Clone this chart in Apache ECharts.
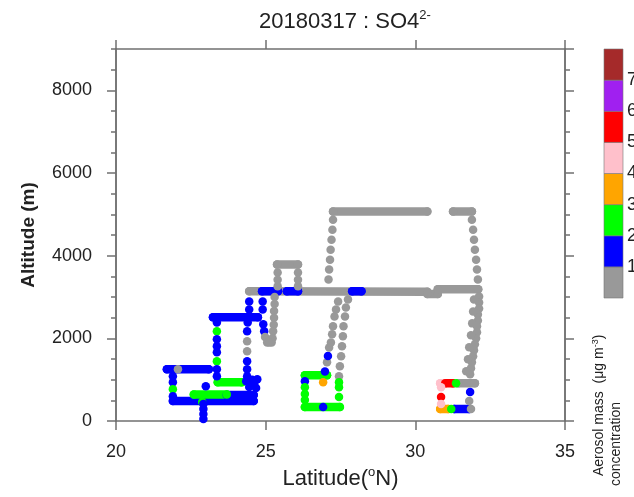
<!DOCTYPE html>
<html><head><meta charset="utf-8">
<script src="https://cdn.jsdelivr.net/npm/echarts@6/dist/echarts.min.js"></script>
<style>html,body{margin:0;padding:0;background:#fff}#c{width:634px;height:497px}</style>
</head><body><div id="c"></div>
<script>
// ---- data ----
const titleText = '20180317 : SO4';
const yTickValues = [0, 2000, 4000, 6000, 8000];
const xTickValues = [20, 25, 30, 35];
const cbLabels = ['1', '2', '3', '4', '5', '6', '7'];
const cbColors = ['#999999', '#0000ff', '#00ff00', '#ffa500', '#ffc0cb', '#ff0000', '#a020f0', '#a52a2a'];

// continuous flight legs: [lat1, alt1, lat2, alt2, concentration]
const runs = [
  [24.45, 3140, 30.40, 3130, 0.5],
  [30.40, 3075, 30.75, 3075, 0.5],
  [30.75, 3190, 32.10, 3190, 0.5],
  [25.38, 3785, 26.08, 3785, 0.5],
  [27.25, 5070, 30.40, 5070, 0.5],
  [31.26, 5070, 31.89, 5070, 0.5],
  [31.43, 916, 31.99, 916, 0.5],
  [24.88, 3140, 25.41, 3140, 1.5],
  [25.71, 3140, 26.08, 3140, 1.5],
  [27.89, 3140, 28.20, 3140, 1.5],
  [23.24, 2510, 24.74, 2510, 1.5],
  [21.70, 1253, 23.10, 1253, 1.5],
  [21.90, 482, 24.60, 482, 1.5],
  [23.70, 630, 24.60, 630, 1.5],
  [22.60, 640, 23.70, 640, 2.5],
  [23.40, 940, 24.20, 940, 2.5],
  [26.31, 1109, 27.05, 1109, 2.5],
  [26.31, 337, 27.48, 337, 2.5],
  [30.83, 916, 30.95, 916, 4.5],
  [31.00, 916, 31.26, 916, 5.5],
  [30.83, 289, 31.10, 289, 3.5],
  [31.30, 289, 31.80, 289, 1.5]
];

// individual samples: [lat, alt, concentration]
const dots = [
  [21.90,1085,1.5],[21.90,940,1.5],[21.90,770,2.5],[21.90,600,1.5],[22.07,1253,0.5],
  [22.88,460,2.5],[22.92,410,1.5],[22.92,290,1.5],[22.92,170,1.5],[22.92,50,1.5],[23.00,840,1.5],
  [23.37,2386,1.5],[23.37,2169,2.5],[23.37,1976,1.5],[23.37,1808,1.5],[23.37,1663,1.5],[23.37,1446,2.5],[23.37,1253,1.5],[23.37,1085,1.5],
  [24.45,2890,1.5],[24.45,2700,1.5],[24.40,2386,1.5],[24.38,2169,1.5],[24.38,1930,0.5],[24.38,1690,0.5],[24.38,1446,1.5],[24.38,1253,1.5],[24.38,1085,1.5],
  [24.35,960,1.5],[24.55,1000,1.5],[24.72,1010,1.5],[24.62,900,1.5],[24.45,820,1.5],[24.68,800,1.5],
  [24.90,2890,1.5],[24.90,2700,1.5],[24.92,2340,1.5],[24.95,2170,1.5],[24.98,2030,0.5],[25.05,1900,0.5],
  [25.30,3000,0.5],[25.30,2830,0.5],[25.28,2660,0.5],[25.28,2500,0.5],[25.27,2330,0.5],[25.25,2170,0.5],[25.23,2000,0.5],[25.20,1900,0.5],[25.12,1900,0.5],
  [25.40,3590,0.5],[25.40,3420,0.5],[25.40,3260,0.5],[26.08,3590,0.5],[26.08,3420,0.5],[26.08,3260,0.5],
  [26.98,1200,1.5],[27.05,1420,0.5],[27.08,1570,1.5],[27.12,1780,0.5],[27.18,1900,0.5],[27.22,2100,0.5],[27.25,2290,0.5],[27.30,2530,0.5],[27.35,2700,0.5],[27.42,2890,0.5],
  [27.10,3422,0.5],[27.12,3663,0.5],[27.15,3904,0.5],[27.17,4145,0.5],[27.20,4386,0.5],[27.23,4627,0.5],[27.25,4868,0.5],
  [27.75,2940,0.5],[27.68,2747,0.5],[27.65,2531,0.5],[27.60,2290,0.5],[27.58,2049,0.5],[27.55,1808,0.5],[27.52,1567,0.5],[27.48,1325,0.5],[27.45,1085,0.5],
  [26.31,964,1.5],[26.92,940,3.5],[26.31,819,2.5],[26.31,651,2.5],[26.31,506,2.5],[26.92,337,1.5],[27.45,940,2.5],[27.45,819,2.5],[27.45,578,2.5],
  [31.89,4868,0.5],[31.93,4627,0.5],[31.96,4386,0.5],[31.99,4145,0.5],[32.03,3904,0.5],[32.06,3663,0.5],[32.09,3422,0.5],
  [32.13,3013,0.5],[32.13,2868,0.5],[32.13,2723,0.5],[32.09,2579,0.5],[32.09,2434,0.5],[32.06,2290,0.5],[32.06,2145,0.5],[32.03,2000,0.5],[31.99,1856,0.5],[31.96,1711,0.5],[31.93,1567,0.5],[31.89,1422,0.5],[31.86,1277,0.5],[31.83,1133,0.5],
  [31.96,2940,0.5],[31.93,2651,0.5],[31.90,2362,0.5],[31.86,2073,0.5],[31.80,1783,0.5],[31.76,1494,0.5],[31.70,1205,0.5],
  [30.86,819,4.5],[30.86,578,5.5],[30.86,410,4.5],[31.36,916,2.5],[31.20,289,2.5],[31.86,289,0.5],[31.83,699,1.5],[31.80,482,0.5]
];

// ---- chart ----
const FONT = 'Liberation Sans, Arial, Helvetica, sans-serif';
const MARK = 8.5;
function colorFor(c) { return cbColors[Math.max(0, Math.min(cbColors.length - 1, Math.floor(c)))]; }

const chart = echarts.init(document.getElementById('c'), null, { renderer: 'canvas' });
const axisLineStyle = { color: '#707070', width: 1.5 };

function xAxisDef(pos, withLabel) {
  return {
    type: 'value', position: pos, min: 20, max: 35, interval: 5,
    axisLine: { show: true, onZero: false, lineStyle: axisLineStyle },
    axisTick: { show: true, inside: false, length: 9, lineStyle: axisLineStyle },
    axisLabel: withLabel ? { show: true, fontSize: 18, color: '#222', fontFamily: FONT, margin: 22,
      formatter: v => xTickValues.includes(v) ? String(v) : '' } : { show: false },
    splitLine: { show: false },
    name: withLabel ? 'Latitude({sup|o}N)' : '', nameLocation: 'middle', nameGap: 45,
    nameTextStyle: { fontSize: 22, color: '#222', fontFamily: FONT, lineHeight: 26,
      rich: { sup: { fontSize: 13, verticalAlign: 'top', lineHeight: 14, fontFamily: FONT, color: '#222' } } }
  };
}
function yAxisDef(pos, interval, len, withLabel) {
  return {
    type: 'value', position: pos, min: 0, max: 9000, interval: interval,
    axisLine: { show: true, onZero: false, lineStyle: axisLineStyle },
    axisTick: { show: true, inside: false, length: len, lineStyle: axisLineStyle },
    axisLabel: withLabel ? { show: true, fontSize: 18, color: '#222', fontFamily: FONT, margin: 24, showMaxLabel: false,
      formatter: v => yTickValues.includes(v) ? String(v) : '' } : { show: false },
    splitLine: { show: false },
    name: withLabel ? 'Altitude (m)' : '', nameLocation: 'middle', nameGap: 78,
    nameTextStyle: { fontSize: 19, fontWeight: 'bold', color: '#222', fontFamily: FONT }
  };
}

const series = runs.map(r => ({
  type: 'line', xAxisIndex: 0, yAxisIndex: 0,
  data: [[r[0], r[1]], [r[2], r[3]]],
  symbol: 'none', silent: true, animation: false,
  z: r[4] >= 1 ? 3 : 2,
  lineStyle: { width: MARK, color: colorFor(r[4]), cap: 'round' }
}));
// rounded ends of the legs (the legs' own end samples)
const runEnds = [];
runs.forEach(r => { runEnds.push([r[0], r[1], r[4]]); runEnds.push([r[2], r[3], r[4]]); });
series.push({
  type: 'scatter', xAxisIndex: 0, yAxisIndex: 0, data: runEnds, symbolSize: MARK, z: 3,
  animation: false, silent: true,
  itemStyle: { color: p => colorFor(p.data[2]), opacity: 1 }
});
series.push({
  type: 'scatter', xAxisIndex: 0, yAxisIndex: 0, data: dots, symbolSize: MARK, z: 4,
  animation: false, silent: true,
  itemStyle: { color: p => colorFor(p.data[2]), opacity: 1 }
});

// colorbar (graphic)
const cbX = 604, cbW = 19, cbTop = 49, cbBottom = 298;
const cbH = (cbBottom - cbTop) / cbColors.length;
const graphics = [];
cbColors.forEach((c, i) => {
  graphics.push({ type: 'rect', shape: { x: cbX, y: cbBottom - (i + 1) * cbH, width: cbW, height: cbH },
    style: { fill: c, stroke: '#777', lineWidth: 0.6 } });
});
cbLabels.forEach((t, i) => {
  graphics.push({ type: 'text', x: cbX + cbW + 4, y: cbBottom - (i + 1) * cbH,
    style: { text: t, fontSize: 18, fill: '#222', fontFamily: FONT, textAlign: 'left', textVerticalAlign: 'middle' } });
});
graphics.push({ type: 'text', x: 599, y: 476, rotation: Math.PI / 2,
  style: { text: 'Aerosol mass  (\u03bcg m{sup|-3})', fontSize: 14, fill: '#222', fontFamily: FONT,
    textAlign: 'left', textVerticalAlign: 'middle', lineHeight: 16,
    rich: { sup: { fontSize: 9, verticalAlign: 'top', lineHeight: 9, fill: '#222', fontFamily: FONT } } } });
graphics.push({ type: 'text', x: 616, y: 486, rotation: Math.PI / 2,
  style: { text: 'concentration', fontSize: 14, fill: '#222', fontFamily: FONT,
    textAlign: 'left', textVerticalAlign: 'middle' } });

chart.setOption({
  animation: false,
  backgroundColor: '#fff',
  title: {
    text: titleText + '{sup|2-}', left: 340, top: 4, textAlign: 'center',
    textStyle: { fontSize: 22, fontWeight: 'normal', color: '#222', fontFamily: FONT, lineHeight: 26,
      rich: { sup: { fontSize: 13, verticalAlign: 'top', lineHeight: 14, color: '#222', fontFamily: FONT } } }
  },
  grid: { left: 116, right: 69, top: 49, bottom: 75, containLabel: false },
  xAxis: [xAxisDef('bottom', true), xAxisDef('top', false)],
  yAxis: [yAxisDef('left', 2000, 9, true), yAxisDef('left', 500, 5, false),
          yAxisDef('right', 2000, 9, false), yAxisDef('right', 500, 5, false)],
  series: series,
  graphic: graphics
});
</script></body></html>
